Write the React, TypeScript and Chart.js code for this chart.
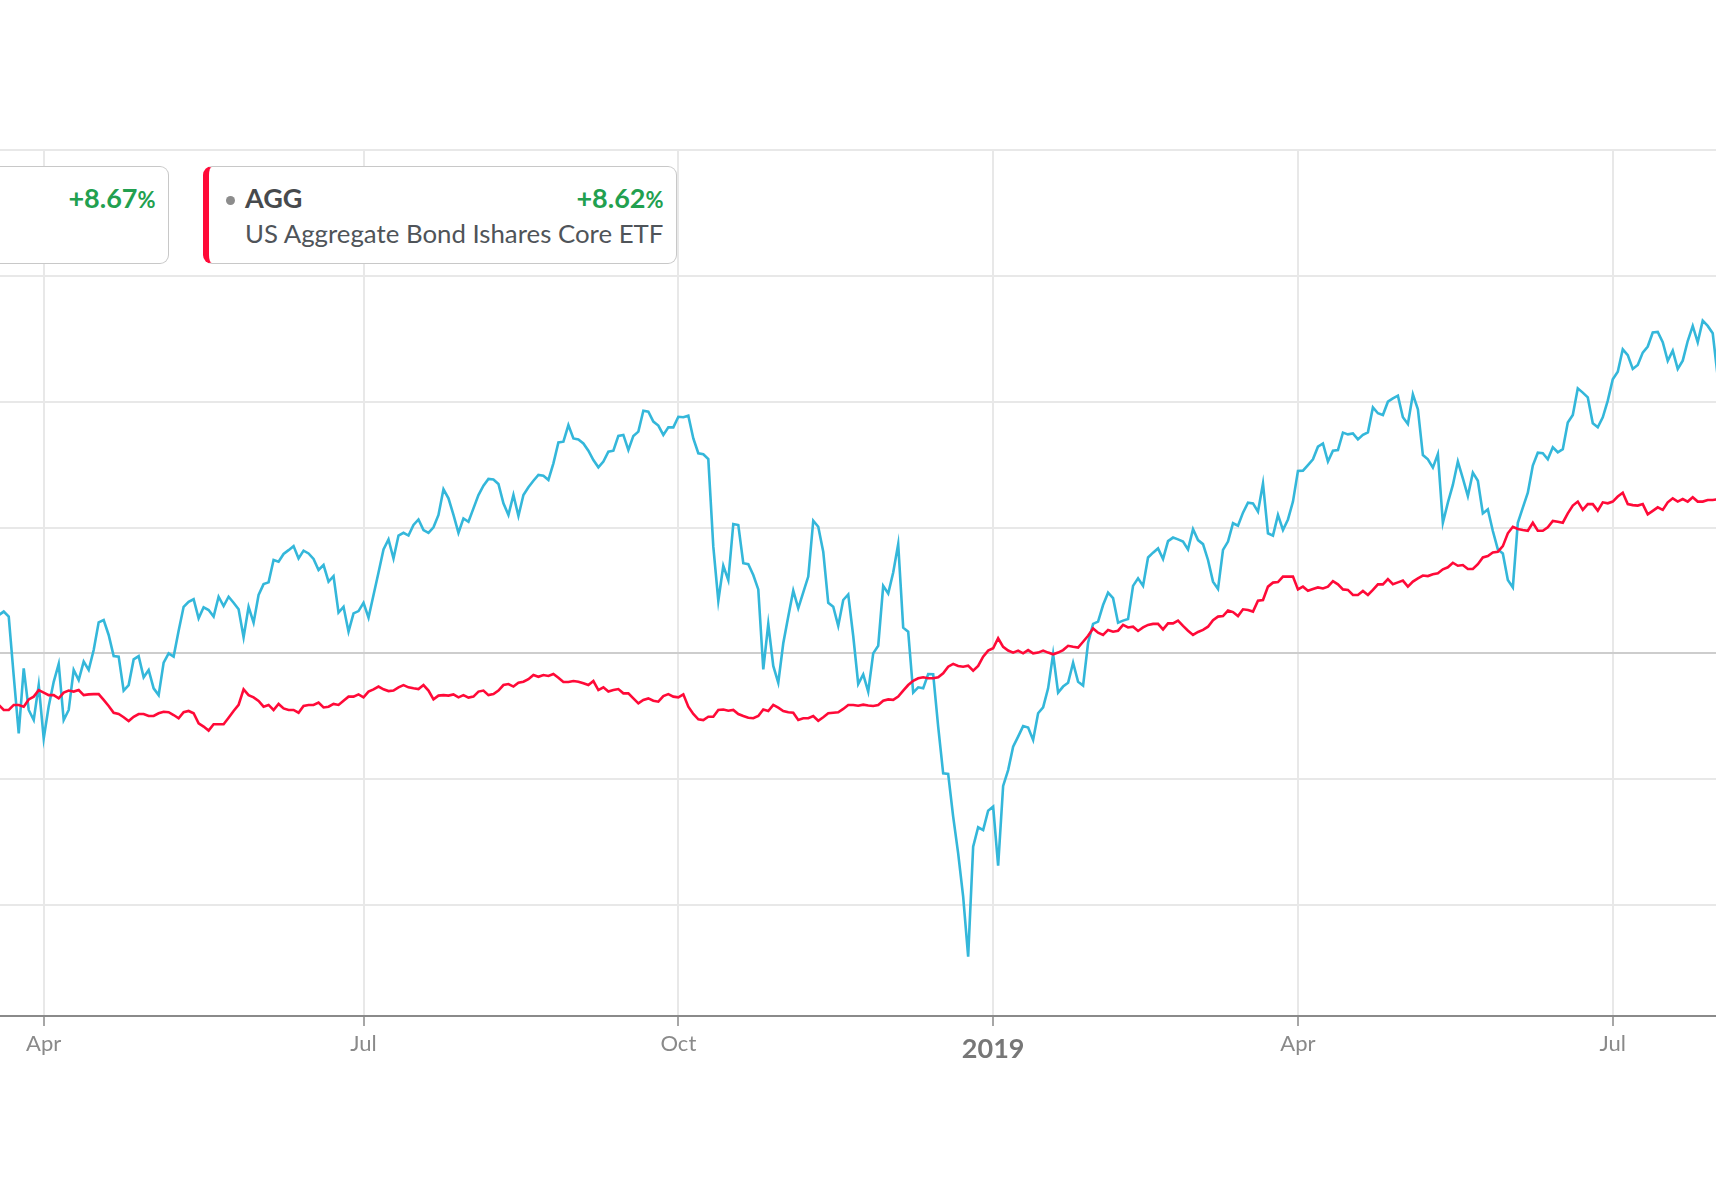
import React, { useEffect, useRef } from "react";
import { Chart, registerables } from "chart.js";

Chart.register(...registerables);

// Trading-day index (0 = first visible session, ~late March 2018) -> % change
const SPY_VALUES = [
  1.52, 1.66, 1.46, -0.9, -3.18, -0.6, -2.25, -2.65, -1.26, -3.38,
  -2.1, -1.13, -0.42, -2.65, -2.25, -0.66, -1.06, -0.33, -0.66, 0.13,
  1.23, 1.32, 0.73, -0.11, -0.13, -1.48, -1.26, -0.24, -0.11, -0.95,
  -0.66, -1.39, -1.66, -0.37, 0, -0.13, 0.9, 1.85, 2.05, 2.15,
  1.39, 1.83, 1.72, 1.46, 2.25, 1.88, 2.25, 2.01, 1.75, 0.64,
  1.85, 1.22, 2.32, 2.75, 2.82, 3.71, 3.64, 3.95, 4.1, 4.26,
  3.77, 4.08, 3.97, 3.75, 3.31, 3.51, 2.85, 3.07, 1.62, 1.85,
  0.86, 1.59, 1.68, 2.01, 1.42, 2.32, 3.21, 4.13, 4.53, 3.77,
  4.68, 4.79, 4.68, 5.1, 5.32, 4.9, 4.79, 5.01, 5.5, 6.52,
  6.16, 5.5, 4.79, 5.36, 5.23, 5.76, 6.29, 6.66, 6.93, 6.91,
  6.73, 5.96, 5.5, 6.29, 5.46, 6.29, 6.6, 6.86, 7.09, 7.06,
  6.89, 7.55, 8.38, 8.41, 9.07, 8.54, 8.5, 8.34, 8.05, 7.68,
  7.39, 7.62, 8.01, 8.05, 8.64, 8.68, 8.08, 8.64, 8.81, 9.64,
  9.6, 9.21, 9.05, 8.68, 8.98, 8.98, 9.4, 9.38, 9.44, 8.54,
  7.95, 7.91, 7.72, 4.24, 2.09, 3.48, 2.91, 5.14, 5.1, 3.58,
  3.54, 3.11, 2.54, -0.64, 1.17, -0.5, -1.17, 0.4, 1.46, 2.49,
  1.79, 2.42, 3.05, 5.27, 5.03, 4.04, 2.01, 1.85, 1.09, 2.12,
  2.34, 0.69, -1.22, -0.84, -1.52, 0, 0.3, 2.68, 2.38, 3.21,
  4.34, 1.02, 0.86, -1.56, -1.35, -1.39, -0.82, -0.83, -2.91, -4.77,
  -4.79, -6.49, -7.95, -9.67, -12.05, -7.68, -6.91, -7.02, -6.25, -6.09,
  -8.44, -5.27, -4.64, -3.71, -3.31, -2.89, -2.95, -3.44, -2.38, -2.15,
  -1.39, -0.03, -1.56, -1.32, -1.17, -0.37, -1.13, -1.28, 0.42, 1.17,
  1.26, 1.92, 2.41, 2.19, 1.22, 1.3, 1.36, 2.68, 2.98, 2.68,
  3.81, 4.0, 4.17, 3.75, 4.46, 4.6, 4.53, 4.44, 4.13, 4.93,
  4.5, 4.34, 3.71, 2.85, 2.56, 4.11, 4.44, 5.17, 5.07, 5.59,
  5.99, 5.96, 5.63, 6.75, 4.77, 4.68, 5.5, 4.9, 5.32, 6.03,
  7.25, 7.26, 7.48, 7.71, 8.21, 8.34, 7.62, 8.05, 8.08, 8.77,
  8.7, 8.74, 8.5, 8.68, 8.78, 9.77, 9.54, 9.47, 10.0, 10.13,
  10.24, 9.38, 9.11, 10.29, 9.7, 7.88, 7.71, 7.38, 7.92, 5.19,
  5.99, 6.69, 7.62, 6.95, 6.25, 7.18, 6.86, 5.56, 5.72, 4.86,
  4.13, 3.97, 2.91, 2.62, 5.19, 5.79, 6.38, 7.46, 7.97, 7.95,
  7.71, 8.19, 7.99, 8.11, 9.17, 9.47, 10.53, 10.36, 10.17, 9.14,
  8.98, 9.38, 10.04, 10.89, 11.19, 12.08, 11.85, 11.3, 11.46, 11.95,
  12.19, 12.75, 12.77, 12.36, 11.62, 12.03, 11.3, 11.63, 12.41, 13.01,
  12.36, 13.22, 13.01, 12.72, 11.0,
];

const AGG_VALUES = [
  -2.05, -2.25, -2.25, -2.05, -2.05, -2.12, -1.83, -1.72, -1.46, -1.56,
  -1.66, -1.66, -1.79, -1.56, -1.48, -1.52, -1.46, -1.66, -1.63, -1.62,
  -1.62, -1.85, -2.09, -2.36, -2.41, -2.54, -2.69, -2.52, -2.41, -2.41,
  -2.49, -2.49, -2.38, -2.32, -2.34, -2.45, -2.58, -2.34, -2.29, -2.38,
  -2.78, -2.91, -3.07, -2.82, -2.82, -2.82, -2.56, -2.29, -2.05, -1.43,
  -1.66, -1.75, -1.89, -2.12, -2.05, -2.25, -2.01, -2.19, -2.25, -2.25,
  -2.36, -2.09, -2.05, -2.05, -1.96, -2.15, -2.12, -2.01, -2.05, -1.88,
  -1.72, -1.72, -1.63, -1.75, -1.52, -1.43, -1.32, -1.43, -1.5, -1.48,
  -1.35, -1.26, -1.35, -1.39, -1.42, -1.26, -1.48, -1.83, -1.68, -1.66,
  -1.68, -1.63, -1.75, -1.66, -1.76, -1.72, -1.52, -1.48, -1.66, -1.62,
  -1.48, -1.26, -1.22, -1.32, -1.17, -1.13, -1.03, -0.86, -0.93, -0.86,
  -0.9, -0.82, -0.97, -1.14, -1.14, -1.1, -1.13, -1.19, -1.26, -1.1,
  -1.46, -1.35, -1.52, -1.46, -1.42, -1.59, -1.59, -1.79, -1.99, -1.85,
  -1.79, -1.88, -1.92, -1.7, -1.62, -1.72, -1.75, -1.63, -2.12, -2.41,
  -2.62, -2.65, -2.52, -2.52, -2.25, -2.23, -2.28, -2.25, -2.41, -2.49,
  -2.56, -2.58, -2.49, -2.23, -2.29, -2.05, -2.16, -2.29, -2.34, -2.36,
  -2.65, -2.58, -2.58, -2.49, -2.68, -2.54, -2.38, -2.36, -2.34, -2.21,
  -2.05, -2.05, -2.08, -2.04, -2.07, -2.09, -2.05, -1.88, -1.83, -1.85,
  -1.72, -1.48, -1.26, -1.09, -0.99, -0.95, -0.99, -0.99, -0.95, -0.79,
  -0.53, -0.42, -0.5, -0.53, -0.49, -0.69, -0.5, -0.13, 0.11, 0.2,
  0.6, 0.26, 0.11, 0.03, 0.11, 0, 0.13, 0, 0.03, 0.11,
  0.03, -0.04, 0.03, 0.13, 0.3, 0.26, 0.23, 0.46, 0.7, 0.99,
  0.82, 0.73, 0.93, 0.86, 0.9, 1.13, 1.03, 1.06, 0.89, 1.03,
  1.13, 1.17, 1.17, 0.95, 1.19, 1.19, 1.3, 1.09, 0.9, 0.73,
  0.85, 0.93, 1.06, 1.32, 1.46, 1.48, 1.7, 1.64, 1.48, 1.75,
  1.72, 1.66, 2.09, 2.12, 2.65, 2.81, 2.83, 3.05, 3.05, 3.05,
  2.54, 2.65, 2.49, 2.56, 2.62, 2.58, 2.65, 2.87, 2.74, 2.54,
  2.52, 2.32, 2.32, 2.48, 2.32, 2.52, 2.74, 2.74, 2.95, 2.75,
  2.82, 2.89, 2.65, 2.85, 2.98, 3.09, 3.07, 3.14, 3.18, 3.34,
  3.42, 3.6, 3.48, 3.51, 3.35, 3.35, 3.54, 3.81, 3.87, 4.01,
  4.04, 4.26, 4.77, 5.03, 4.94, 4.9, 4.87, 5.19, 4.87, 4.87,
  5.01, 5.26, 5.23, 5.19, 5.56, 5.87, 6.03, 5.7, 5.93, 5.93,
  5.67, 6.0, 5.96, 6.03, 6.23, 6.38, 5.93, 5.89, 5.87, 5.93,
  5.52, 5.66, 5.8, 5.7, 6.0, 6.16, 6.03, 6.13, 6.03, 6.2,
  6.03, 6.03, 6.09, 6.09, 6.12,
];

// x-axis ticks (trading-day index of first session of each quarter)
const TICK_INDEX = [9, 73, 136, 199, 260, 323];
const TICK_LABELS = ["Apr", "Jul", "Oct", "2019", "Apr", "Jul"];
const YEAR_TICK = 199;

// y-axis gridlines (%)
const Y_TICKS = [-10, -5, 0, 5, 10, 15, 20];
const Y_MIN = -14.41;
const Y_MAX = 20;
const X_MIN = -19.76;
const X_MAX = 363.67;

// legend cards
const LEGEND_SYMBOLS = ["SPY", "AGG"];
const LEGEND_NAMES = ["SPDR S&P 500 ETF", "US Aggregate Bond Ishares Core ETF"];
const LEGEND_CHANGES = ["+8.67", "+8.62"];

const SPY_COLOR = "#34b7da";
const AGG_COLOR = "#ff0a38";

function LegendCard(props: {
  left: number;
  color: string;
  symbol: string;
  name: string;
  change: string;
}) {
  const { left, color, symbol, name, change } = props;
  return (
    <div
      style={{
        position: "absolute",
        left,
        top: 166,
        width: 474,
        height: 98,
        boxSizing: "border-box",
        border: "1.5px solid #c8c8c8",
        borderLeft: `6px solid ${color}`,
        borderRadius: 9,
        background: "#ffffff",
        zIndex: 2,
      }}
    >
      <span
        style={{
          position: "absolute",
          left: 17,
          top: 29,
          width: 9,
          height: 9,
          borderRadius: "50%",
          background: "#8c8c8c",
        }}
      />
      <div
        style={{
          position: "absolute",
          left: 36.5,
          top: 14.5,
          fontSize: 27,
          lineHeight: "32.4px",
          fontWeight: 700,
          color: "#474a4d",
          whiteSpace: "nowrap",
        }}
      >
        {symbol}
      </div>
      <div
        style={{
          position: "absolute",
          right: 12,
          top: 14.5,
          fontSize: 27,
          lineHeight: "32.4px",
          fontWeight: 700,
          color: "#22a04f",
          whiteSpace: "nowrap",
        }}
      >
        {change}
        <span style={{ fontSize: 22 }}>%</span>
      </div>
      <div
        style={{
          position: "absolute",
          left: 36.5,
          top: 50.5,
          fontSize: 25.8,
          lineHeight: "31px",
          color: "#4f5459",
          whiteSpace: "nowrap",
        }}
      >
        {name}
      </div>
    </div>
  );
}

export default function App() {
  const canvasRef = useRef<HTMLCanvasElement | null>(null);

  useEffect(() => {
    const canvas = canvasRef.current;
    if (!canvas) return;
    Chart.defaults.font.family = "Lato, 'Open Sans', sans-serif";

    const chart = new Chart(canvas, {
      type: "line",
      data: {
        datasets: [
          {
            label: "AGG",
            data: AGG_VALUES.map((v, i) => ({ x: i, y: v })),
            borderColor: AGG_COLOR,
            borderWidth: 2.6,
            pointRadius: 0,
            tension: 0,
            fill: false,
            order: 0,
          },
          {
            label: "SPY",
            data: SPY_VALUES.map((v, i) => ({ x: i, y: v })),
            borderColor: SPY_COLOR,
            borderWidth: 2.6,
            pointRadius: 0,
            tension: 0,
            fill: false,
            order: 1,
          },
        ],
      },
      options: {
        responsive: false,
        animation: false,
        events: [],
        layout: { padding: { top: 10, left: 0, right: 0, bottom: 0 } },
        plugins: {
          legend: { display: false },
          tooltip: { enabled: false },
        },
        scales: {
          x: {
            type: "linear",
            min: X_MIN,
            max: X_MAX,
            afterBuildTicks: (scale: any) => {
              scale.ticks = TICK_INDEX.map((v) => ({ value: v }));
            },
            afterFit: (scale: any) => {
              scale.height = 80;
            },
            grid: {
              color: "#e8e8e8",
              lineWidth: 2,
              drawTicks: true,
              tickLength: 10,
              tickColor: "#8a8a8a",
              tickWidth: 1.5,
            },
            border: { display: true, color: "#8a8a8a", width: 2 },
            ticks: {
              autoSkip: false,
              maxRotation: 0,
              minRotation: 0,
              padding: 5,
              color: (ctx: any) =>
                ctx.tick && ctx.tick.value === YEAR_TICK ? "#777777" : "#8a8a8a",
              font: (ctx: any) =>
                ctx.tick && ctx.tick.value === YEAR_TICK
                  ? { size: 27, weight: "bold", lineHeight: 1.35 }
                  : { size: 22, weight: "normal", lineHeight: 1.2 },
              callback: (value: any) => {
                const k = TICK_INDEX.indexOf(Number(value));
                return k >= 0 ? TICK_LABELS[k] : "";
              },
            },
          },
          y: {
            type: "linear",
            min: Y_MIN,
            max: Y_MAX,
            afterBuildTicks: (scale: any) => {
              scale.ticks = Y_TICKS.map((v) => ({ value: v }));
            },
            afterFit: (scale: any) => {
              scale.width = 0;
            },
            grid: {
              color: (ctx: any) =>
                ctx.tick && ctx.tick.value === 0 ? "#cdcdcd" : "#e8e8e8",
              lineWidth: 2,
              drawTicks: false,
            },
            border: { display: false },
            ticks: { display: false },
          },
        },
      },
    } as any);

    return () => {
      chart.destroy();
    };
  }, []);

  return (
    <div
      style={{
        position: "fixed",
        left: 0,
        top: 0,
        width: 1716,
        height: 1200,
        overflow: "hidden",
        background: "#ffffff",
        fontFamily: "Lato, 'Open Sans', sans-serif",
      }}
    >
      <canvas
        ref={canvasRef}
        width={1916}
        height={956}
        style={{ position: "absolute", left: -100, top: 140, width: 1916, height: 956 }}
      />
      <LegendCard
        left={-305.5}
        color={SPY_COLOR}
        symbol={LEGEND_SYMBOLS[0]}
        name={LEGEND_NAMES[0]}
        change={LEGEND_CHANGES[0]}
      />
      <LegendCard
        left={202.5}
        color={AGG_COLOR}
        symbol={LEGEND_SYMBOLS[1]}
        name={LEGEND_NAMES[1]}
        change={LEGEND_CHANGES[1]}
      />
    </div>
  );
}
